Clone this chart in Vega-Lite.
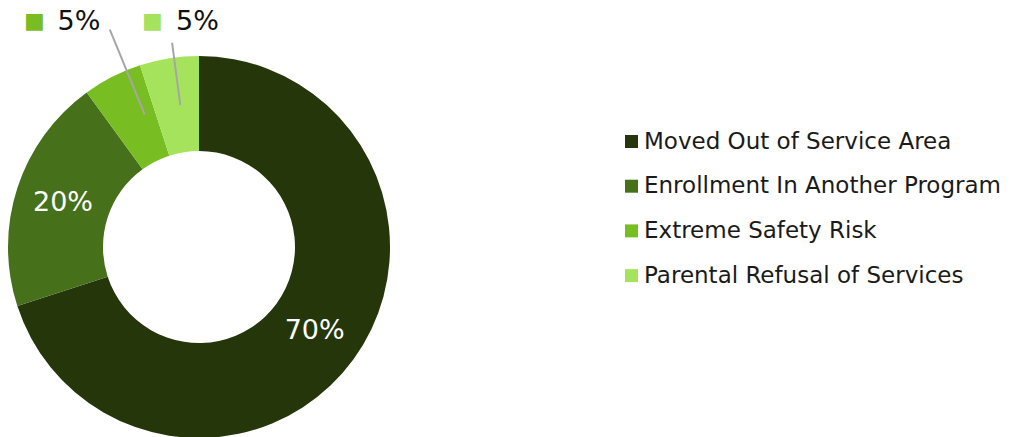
{
  "$schema": "https://vega.github.io/schema/vega-lite/v6.json",
  "width": 398,
  "height": 494,
  "padding": 0,
  "autosize": {"type": "pad"},
  "background": "white",
  "config": {"view": {"stroke": null}, "font": "DejaVu Sans"},
  "data": {
    "values": [
      {"category": "Moved Out of Service Area", "value": 70, "rank": 1, "label": "70%"},
      {"category": "Enrollment In Another Program", "value": 20, "rank": 2, "label": "20%"},
      {"category": "Extreme Safety Risk", "value": 5, "rank": 3, "label": "5%"},
      {"category": "Parental Refusal of Services", "value": 5, "rank": 4, "label": "5%"}
    ]
  },
  "layer": [
    {
      "mark": {"type": "arc", "outerRadius": 191, "innerRadius": 96},
      "encoding": {
        "theta": {"field": "value", "type": "quantitative", "stack": true, "scale": {"domain": [0, 100]}},
        "order": {"field": "rank", "type": "quantitative"},
        "color": {
          "field": "category",
          "type": "nominal",
          "scale": {
            "domain": ["Moved Out of Service Area", "Enrollment In Another Program", "Extreme Safety Risk", "Parental Refusal of Services"],
            "range": ["#24360a", "#467019", "#78bd22", "#a6e35c"]
          },
          "legend": {
            "orient": "none",
            "legendX": 620,
            "legendY": 130,
            "title": null,
            "symbolType": "square",
            "symbolSize": 169,
            "symbolStrokeWidth": 0,
            "labelFontSize": 23,
            "labelFont": "DejaVu Sans",
            "labelColor": "#1a1a1a",
            "labelLimit": 500,
            "labelOffset": 1,
            "rowPadding": 20.7
          }
        }
      }
    },
    {
      "mark": {"type": "text", "radius": 143, "fill": "white", "fontSize": 27, "align": "center", "baseline": "middle"},
      "encoding": {
        "theta": {"field": "value", "type": "quantitative", "stack": true, "scale": {"domain": [0, 100]}},
        "order": {"field": "rank", "type": "quantitative"},
        "detail": {"field": "category", "type": "nominal"},
        "text": {"condition": {"test": "datum.value >= 10", "field": "label", "type": "nominal"}, "value": ""}
      }
    },
    {
      "transform": [
        {"stack": "value", "groupby": [], "sort": [{"field": "rank"}], "as": ["v0", "v1"]},
        {"filter": "datum.rank == 3"}
      ],
      "mark": {"type": "arc", "radius": 235, "radius2": 143, "stroke": "#a6a6a6", "strokeWidth": 2, "thetaOffset": -0.075, "theta2Offset": -0.075},
      "encoding": {
        "theta": {"field": "v1", "type": "quantitative", "stack": null, "scale": {"domain": [0, 100]}},
        "theta2": {"field": "v1"}
      }
    },
    {
      "transform": [
        {"stack": "value", "groupby": [], "sort": [{"field": "rank"}], "as": ["v0", "v1"]},
        {"filter": "datum.rank == 4"}
      ],
      "mark": {"type": "arc", "radius": 206, "radius2": 143, "stroke": "#a6a6a6", "strokeWidth": 2, "thetaOffset": -0.131, "theta2Offset": -0.131},
      "encoding": {
        "theta": {"field": "v1", "type": "quantitative", "stack": null, "scale": {"domain": [0, 100]}},
        "theta2": {"field": "v1"}
      }
    },
    {
      "transform": [
        {"stack": "value", "groupby": [], "sort": [{"field": "rank"}], "as": ["v0", "v1"]},
        {"filter": "datum.rank == 3"}
      ],
      "mark": {"type": "text", "radius": 225, "fontSize": 27, "align": "left", "baseline": "middle", "dx": -72, "dy": -11, "fill": "#111111"},
      "encoding": {
        "theta": {"field": "v1", "type": "quantitative", "stack": null, "scale": {"domain": [0, 100]}},
        "text": {"field": "label"}
      }
    },
    {
      "transform": [
        {"stack": "value", "groupby": [], "sort": [{"field": "rank"}], "as": ["v0", "v1"]},
        {"filter": "datum.rank == 4"}
      ],
      "mark": {"type": "text", "radius": 225, "fontSize": 27, "align": "left", "baseline": "middle", "dx": -23, "dy": 0, "fill": "#111111"},
      "encoding": {
        "theta": {"field": "v1", "type": "quantitative", "stack": null, "scale": {"domain": [0, 100]}},
        "text": {"field": "label"}
      }
    },
    {
      "transform": [
        {"stack": "value", "groupby": [], "sort": [{"field": "rank"}], "as": ["v0", "v1"]},
        {"filter": "datum.rank == 3"}
      ],
      "mark": {"type": "text", "radius": 225, "fontSize": 22, "align": "center", "baseline": "middle", "dx": -95, "dy": -12.5, "text": "■", "fill": "#78bd22"},
      "encoding": {
        "theta": {"field": "v1", "type": "quantitative", "stack": null, "scale": {"domain": [0, 100]}}
      }
    },
    {
      "transform": [
        {"stack": "value", "groupby": [], "sort": [{"field": "rank"}], "as": ["v0", "v1"]},
        {"filter": "datum.rank == 4"}
      ],
      "mark": {"type": "text", "radius": 225, "fontSize": 22, "align": "center", "baseline": "middle", "dx": -46.5, "dy": -1.5, "text": "■", "fill": "#a6e35c"},
      "encoding": {
        "theta": {"field": "v1", "type": "quantitative", "stack": null, "scale": {"domain": [0, 100]}}
      }
    }
  ]
}
